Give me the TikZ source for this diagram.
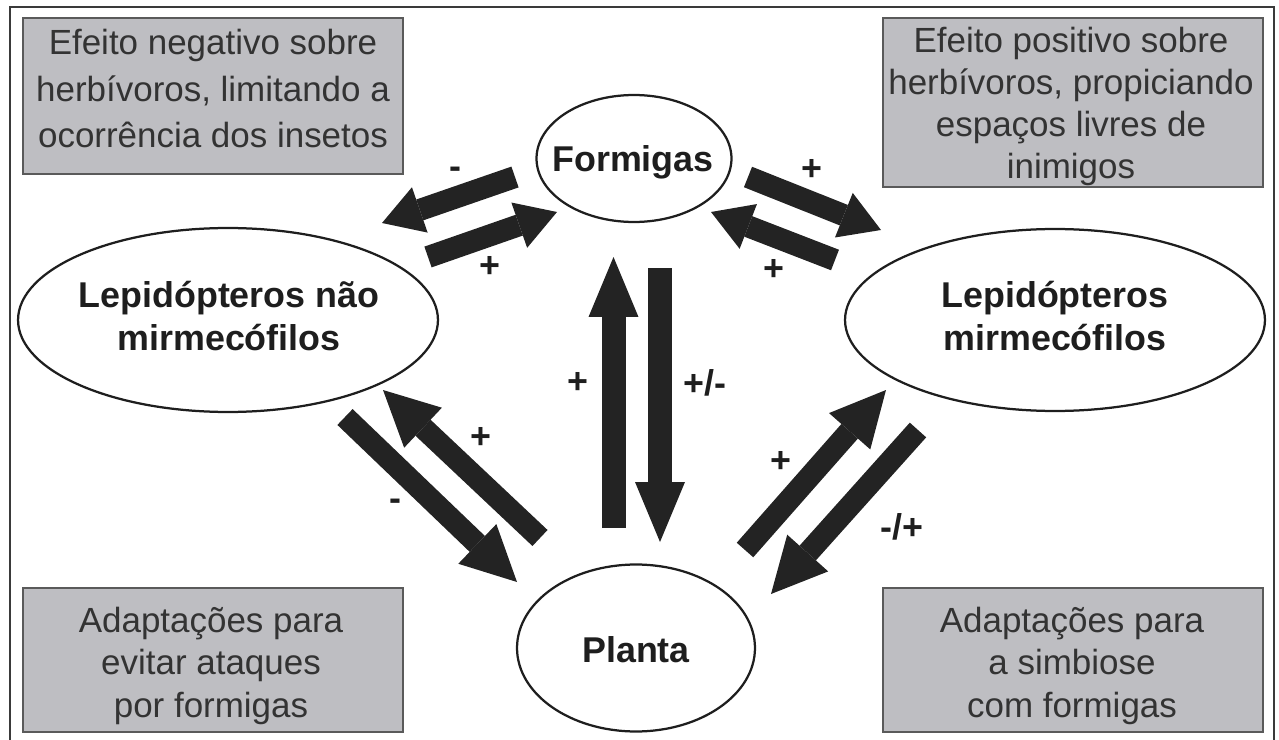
\documentclass[tikz,border=0pt]{standalone}
\usepackage{fontspec}
\setmainfont{Liberation Sans}
\usetikzlibrary{arrows.meta,shapes.geometric}
\definecolor{boxfill}{HTML}{BEBEC2}
\definecolor{boxline}{HTML}{5A5A5A}
\definecolor{textgray}{HTML}{333333}
\definecolor{ink}{HTML}{1E1E1E}
\definecolor{arrowink}{HTML}{232323}
\definecolor{frameline}{HTML}{3A3A3A}
\begin{document}
\begin{tikzpicture}[x=0.02cm,y=-0.02cm,
  graybox/.style={rectangle, draw=boxline, fill=boxfill, line width=0.04cm, inner sep=0},
  boxtext/.style={text=textgray, align=center, inner sep=0, anchor=base},
  oval/.style={ellipse, draw=ink, line width=0.045cm, inner sep=0},
  olabel/.style={font=\bfseries\fontsize{20.4pt}{24.4pt}\selectfont, text=ink, align=center, inner sep=0, anchor=base},
  sign/.style={font=\bfseries\fontsize{20.4pt}{20.4pt}\selectfont, text=ink, inner sep=0},
  toparrow/.style={draw=arrowink, line width=0.44cm, -{Triangle[length=0.8cm,width=0.96cm,line width=0pt]}},
  lowarrow/.style={draw=arrowink, line width=0.44cm, -{Triangle[length=1.1cm,width=1.1cm,line width=0pt]}},
  vertarrow/.style={draw=arrowink, line width=0.48cm, -{Triangle[length=1.2cm,width=1.0cm,line width=0pt]}}
]
\useasboundingbox (0,0) rectangle (1279,740);
% frame
\draw[frameline, line width=0.04cm] (10,740) -- (10,7) -- (1274,7) -- (1274,740);

% gray boxes
\node[graybox, minimum width=7.6cm, minimum height=3.12cm] (b1) at (213,96) {};
\node[graybox, minimum width=7.6cm, minimum height=3.38cm] (b2) at (1073,102.5) {};
\node[graybox, minimum width=7.6cm, minimum height=2.88cm] (b3) at (213,660) {};
\node[graybox, minimum width=7.6cm, minimum height=2.88cm] (b4) at (1073,660) {};
% (anchor base = baseline of the last line)
\node[boxtext, font=\fontsize{19.9pt}{26.6pt}\selectfont] (t1) at (213,148) {Efeito negativo sobre\\herbívoros, limitando a\\ocorrência dos insetos};
\node[boxtext, font=\fontsize{19.9pt}{23.8pt}\selectfont] (t2) at (1071,178) {Efeito positivo sobre\\herbívoros, propiciando\\espaços livres de\\inimigos};
\node[boxtext, font=\fontsize{19.9pt}{24.1pt}\selectfont] (t3) at (211,717) {Adaptações para\\evitar ataques\\por formigas};
\node[boxtext, font=\fontsize{19.9pt}{24.1pt}\selectfont] (t4) at (1072,717) {Adaptações para\\a simbiose\\com formigas};

% ellipses
\node[oval, minimum width=3.9cm, minimum height=2.54cm] (formigas) at (634,158.5) {};
\node[oval, minimum width=8.4cm, minimum height=3.68cm] (lnm) at (228,320) {};
\node[oval, minimum width=8.4cm, minimum height=3.64cm] (lm) at (1055,320) {};
\node[oval, minimum width=4.76cm, minimum height=3.34cm] (planta) at (636,648) {};
\node[olabel] (lf) at (633,172) {Formigas};
\node[olabel] (llnm) at (229,350) {Lepidópteros não\\mirmecófilos};
\node[olabel] (llm) at (1055,350) {Lepidópteros\\mirmecófilos};
\node[olabel] (lp) at (636,662) {Planta};

% arrow end points
\coordinate (a1s) at (515,177); \coordinate (a1e) at (382,223);
\coordinate (a2s) at (428,257); \coordinate (a2e) at (557,212);
\coordinate (a3s) at (748,177); \coordinate (a3e) at (881,230);
\coordinate (a4s) at (835,260); \coordinate (a4e) at (711,212);
\coordinate (a5s) at (345,417); \coordinate (a5e) at (517,582);
\coordinate (a6s) at (540,538); \coordinate (a6e) at (383,390);
\coordinate (a7s) at (745,550); \coordinate (a7e) at (886,390);
\coordinate (a8s) at (918,430); \coordinate (a8e) at (771,594);
\coordinate (a9s) at (613.5,528); \coordinate (a9e) at (613.5,257);
\coordinate (a10s) at (660,268); \coordinate (a10e) at (660,542);

\draw[toparrow] (a1s) -- (a1e);
\draw[toparrow] (a2s) -- (a2e);
\draw[toparrow] (a3s) -- (a3e);
\draw[toparrow] (a4s) -- (a4e);
\draw[lowarrow] (a5s) -- (a5e);
\draw[lowarrow] (a6s) -- (a6e);
\draw[lowarrow] (a7s) -- (a7e);
\draw[lowarrow] (a8s) -- (a8e);
\draw[vertarrow] (a9s) -- (a9e);
\draw[vertarrow] (a10s) -- (a10e);

% signs
\node[sign] (s1) at (455,173) {-};
\node[sign] (s2) at (490,267) {+};
\node[sign] (s3) at (812,170) {+};
\node[sign] (s4) at (774,270) {+};
\node[sign] (s5) at (578,383) {+};
\node[sign] (s6) at (705,383) {+/-};
\node[sign] (s7) at (481,438) {+};
\node[sign] (s8) at (395,505) {-};
\node[sign] (s9) at (781,462) {+};
\node[sign] (s10) at (902,527) {-/+};
\end{tikzpicture}
\end{document}
